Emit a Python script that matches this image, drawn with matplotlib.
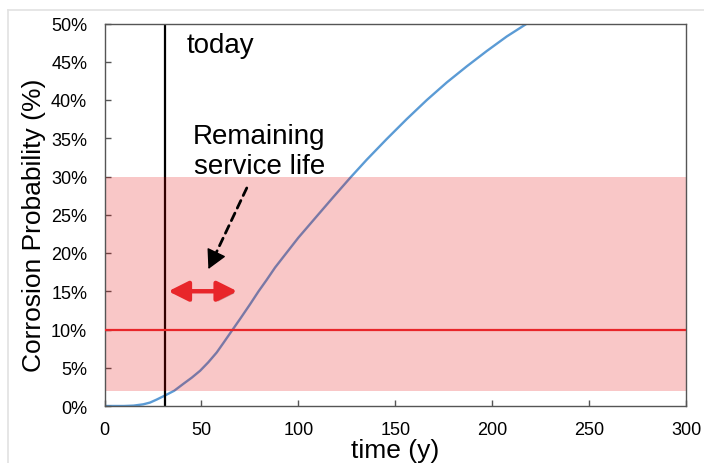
import numpy as np
import matplotlib
matplotlib.use('Agg')
import matplotlib.pyplot as plt
from matplotlib.lines import Line2D
import matplotlib.patheffects as pe

plt.rcParams['font.family'] = ['Liberation Sans', 'DejaVu Sans']

# corrosion probability curve
years = [0, 10, 15, 20, 23.5, 27, 31, 36, 40.7, 45, 49.3, 53.5, 57.9, 61.5, 65.6, 70,
         75.1, 79.5, 83.7, 88, 92.3, 100, 109.5, 118, 127, 135.3, 145.6, 155.9,
         166.3, 176.6, 186.9, 197.2, 207.5, 218]
prob = [0, 0, 0.05, 0.22, 0.45, 0.85, 1.35, 2.0, 2.9, 3.7, 4.6, 5.7, 7.0, 8.3, 9.8, 11.4,
        13.3, 15.0, 16.5, 18.1, 19.5, 22.0, 24.8, 27.3, 29.9, 32.2, 34.9, 37.5,
        40.0, 42.3, 44.4, 46.4, 48.3, 50.0]

today = 31
limit = 10
band = (2, 30)
xticks = [0, 50, 100, 150, 200, 250, 300]
yticks = [0, 5, 10, 15, 20, 25, 30, 35, 40, 45, 50]
ytick_labels = ['%d%%' % v for v in yticks]

fig = plt.figure(figsize=(7.04, 4.64), dpi=100)
ax = fig.add_axes([104.5 / 704, 1 - 407 / 464, (686 - 104.5) / 704, (407 - 24.5) / 464])

# light frame around the slide
fig.add_artist(Line2D([8 / 704, 1], [1 - 11 / 464, 1 - 11 / 464], color='#e2e2e2', lw=1.2))
fig.add_artist(Line2D([8 / 704, 8 / 704], [0, 1 - 11 / 464], color='#e2e2e2', lw=1.2))

ax.plot(years, prob, color='#5b9bd5', lw=1.7, zorder=1, solid_joinstyle='round')
ax.axvline(today, color='black', lw=1.6, zorder=1)
ax.axhspan(band[0], band[1], color=(0.9, 0, 0), alpha=0.22, lw=0, zorder=2)
ax.axhline(limit, color='#e8262a', lw=1.6, zorder=3)

# remaining service life arrow
ax.annotate('', xy=(32.9, 15), xytext=(68.5, 15),
            arrowprops=dict(arrowstyle='<|-|>,head_length=0.6,head_width=0.3',
                            mutation_scale=20, lw=3.2, color='#e8262a',
                            shrinkA=0, shrinkB=0,
                            path_effects=[pe.withSimplePatchShadow(offset=(1.5, -1.5), alpha=0.3)]),
            zorder=5)

# dashed pointer with a solid head
tip = (53.6, 17.9)
tail = (73.4, 28.5)
neck = (57.0, 19.7)
ax.annotate('', xy=neck, xytext=tail,
            arrowprops=dict(arrowstyle='-', lw=2, color='black', ls=(0, (3, 2)),
                            shrinkA=0, shrinkB=0), zorder=5)
ax.annotate('', xy=tip, xytext=neck,
            arrowprops=dict(arrowstyle='-|>,head_length=0.6,head_width=0.32',
                            mutation_scale=20, lw=1, color='black',
                            shrinkA=0, shrinkB=0), zorder=5)

ax.text(42.5, 46.3, 'today', fontsize=20, va='baseline', ha='left', zorder=6)
ax.text(79.8, 30.5, 'Remaining\nservice life', fontsize=20, va='baseline', ha='center',
        linespacing=1.2, zorder=6)

ax.set_xlim(0, 300)
ax.set_ylim(0, 50)
ax.set_xticks(xticks)
ax.set_yticks(yticks)
ax.set_yticklabels(ytick_labels)
ax.tick_params(direction='in', length=4, width=1, colors='#555555', labelcolor='black',
               labelsize=13)
ax.tick_params(axis='x', pad=11)
ax.tick_params(axis='y', pad=12.5)
for s in ax.spines.values():
    s.set_color('#555555')
    s.set_linewidth(1)

ax.set_xlabel('time (y)', fontsize=19, labelpad=0)
ax.set_ylabel('Corrosion Probability (%)', fontsize=19)
ax.yaxis.set_label_coords(-0.1, 0.476)

fig.savefig('out.png', dpi=100)
